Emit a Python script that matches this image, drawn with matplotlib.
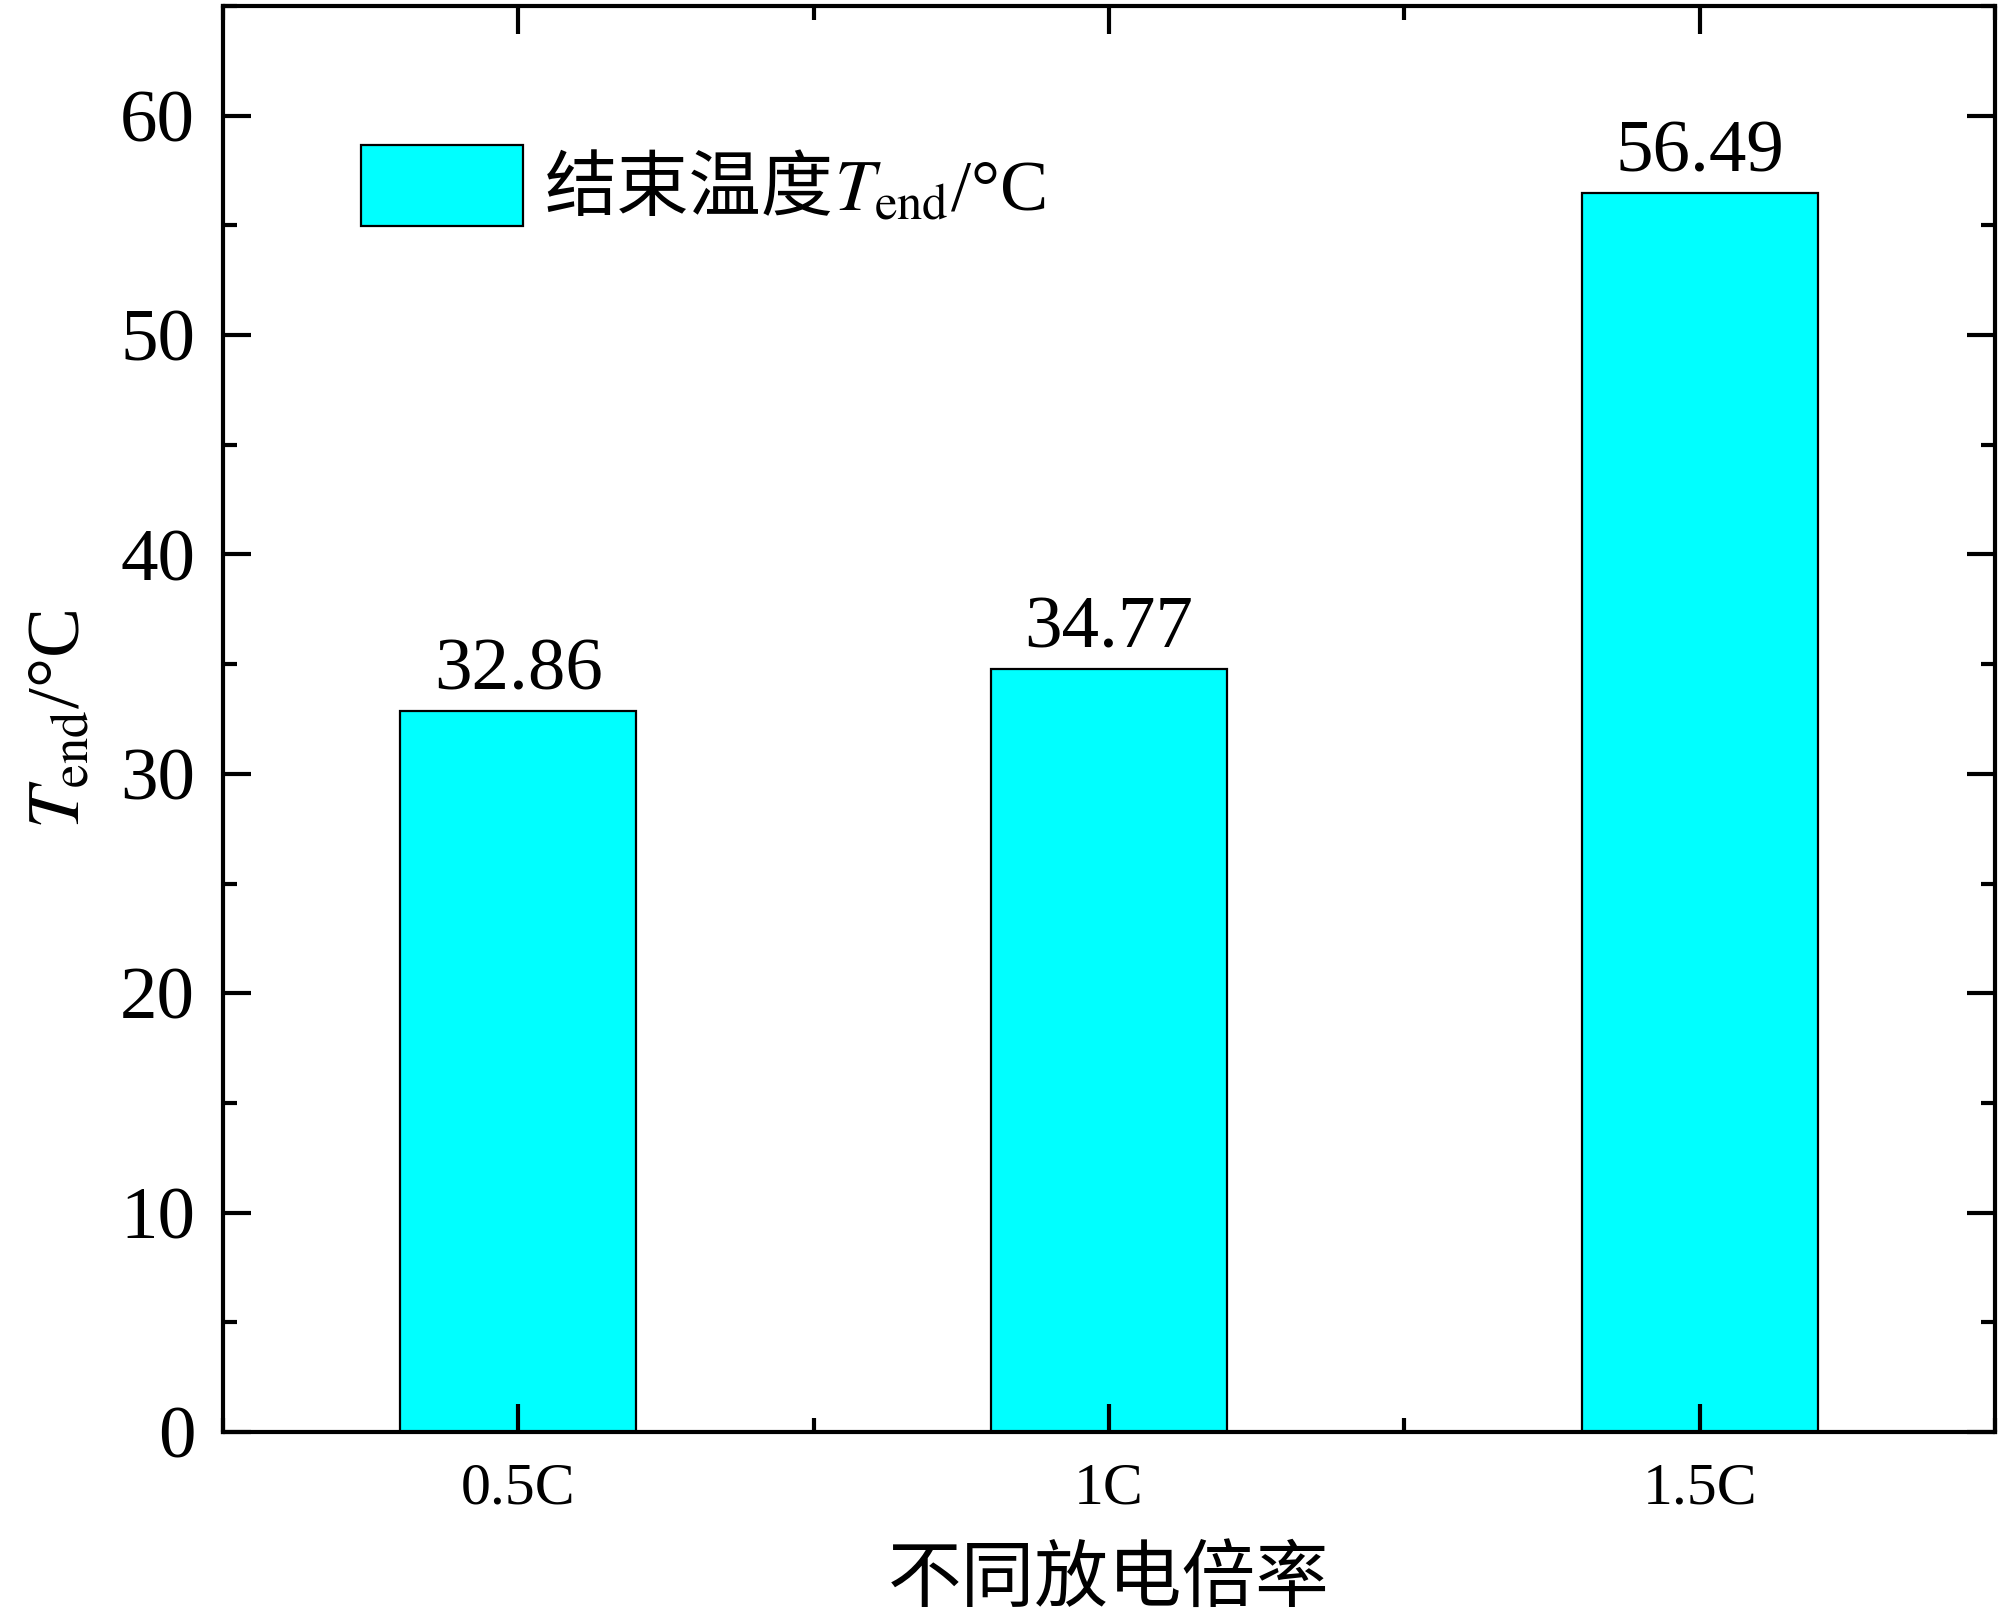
import numpy as np
import matplotlib
matplotlib.use("Agg")
import matplotlib.pyplot as plt
from matplotlib.ticker import MultipleLocator
from matplotlib.transforms import IdentityTransform

plt.rcParams['font.family'] = ['Liberation Serif', 'Noto Sans CJK SC']
plt.rcParams['mathtext.fontset'] = 'stix'

# data
rates = ['0.5C', '1C', '1.5C']
t_end = [32.86, 34.77, 56.49]
legend_cn = '结束温度'
legend_sym = '$T_{\\mathrm{end}}$/°C'

fig = plt.figure(figsize=(20, 16.17), dpi=100)
ax = fig.add_axes([0.1115, 0.1144, 0.886, 0.8819])

x = np.arange(len(rates))
bars = ax.bar(x, t_end, width=0.4, color='#00FFFF', edgecolor='black',
              linewidth=1.6, label=legend_cn)

for xi, v in zip(x, t_end):
    ax.annotate(f'{v:.2f}', (xi, v), xytext=(0, 4), textcoords='offset points',
                ha='center', va='bottom', fontsize=54)

ax.set_xlim(-0.5, 2.5)
ax.set_ylim(0, 65)
ax.set_xticks(x)
ax.set_xticklabels(rates)
ax.xaxis.set_minor_locator(MultipleLocator(0.5))
ax.yaxis.set_major_locator(MultipleLocator(10))
ax.yaxis.set_minor_locator(MultipleLocator(5))

ax.tick_params(which='both', direction='in', top=True, right=True, width=3)
ax.tick_params(which='major', length=20)
ax.tick_params(which='minor', length=10)
ax.tick_params(axis='y', which='major', labelsize=54, pad=20)
ax.tick_params(axis='x', which='major', labelsize=43, pad=22)

for s in ax.spines.values():
    s.set_linewidth(3)

ax.set_xlabel('不同放电倍率', fontsize=53, labelpad=23)
ax.set_ylabel('$T_{\\mathrm{end}}$/°C', fontsize=54, labelpad=18)

leg = ax.legend(loc='upper left', bbox_to_anchor=(0.041, 0.948), frameon=False,
                fontsize=52, handlelength=2.25, handleheight=1.35, handletextpad=0.3)

# mathtext can't fall back to the CJK font, so the symbol part goes right after
fig.canvas.draw()
lt = leg.get_texts()[0]
bb = lt.get_window_extent()
px, py = lt.get_transform().transform(lt.get_position())
fig.text(bb.x1, py, legend_sym, transform=IdentityTransform(),
         ha='left', va='baseline', fontsize=52)

fig.savefig('out.png', dpi=100)
